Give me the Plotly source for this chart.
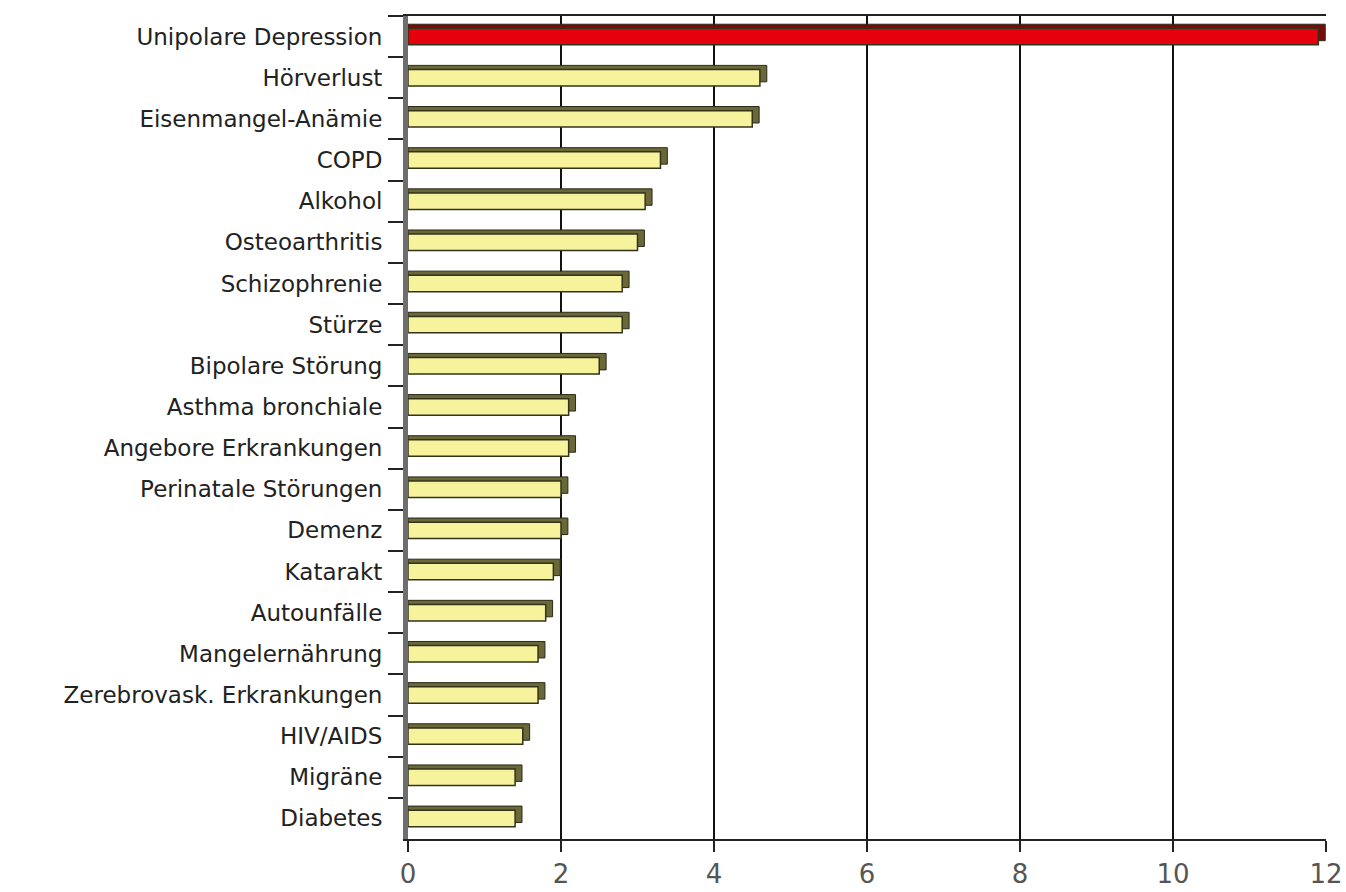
import plotly.graph_objects as go

# Years lived with disability, leading causes (share in %)
categories = [
    "Unipolare Depression", "Hörverlust", "Eisenmangel-Anämie", "COPD", "Alkohol",
    "Osteoarthritis", "Schizophrenie", "Stürze", "Bipolare Störung", "Asthma bronchiale",
    "Angebore Erkrankungen", "Perinatale Störungen", "Demenz", "Katarakt", "Autounfälle",
    "Mangelernährung", "Zerebrovask. Erkrankungen", "HIV/AIDS", "Migräne", "Diabetes",
]
values = [11.9, 4.6, 4.5, 3.3, 3.1, 3.0, 2.8, 2.8, 2.5, 2.1,
          2.1, 2.0, 2.0, 1.9, 1.8, 1.7, 1.7, 1.5, 1.4, 1.4]
x_ticks = [0, 2, 4, 6, 8, 10, 12]

front_colors = ["#e5000b"] + ["#f6f39c"] * (len(values) - 1)
depth_colors = ["#7a0a0a"] + ["#6a6838"] * (len(values) - 1)
depth = 0.09

fig = go.Figure()

# Shaded depth face drawn behind the front face for a 3D look
fig.add_trace(go.Bar(
    y=categories, x=[v + depth for v in values], orientation="h",
    width=0.40, offset=-0.30,
    marker=dict(color=depth_colors, line=dict(color="#2a2a18", width=1)),
    hoverinfo="skip", showlegend=False,
))
fig.add_trace(go.Bar(
    y=categories, x=values, orientation="h",
    width=0.40, offset=-0.20,
    marker=dict(color=front_colors, line=dict(color="#33331c", width=1.5)),
    showlegend=False,
))

fig.update_layout(
    width=1346, height=892,
    margin=dict(l=408, r=20, t=16, b=53),
    paper_bgcolor="white", plot_bgcolor="white",
    barmode="overlay", bargap=0.5,
    font=dict(family="DejaVu Sans, Arial, sans-serif", color="#222"),
)
fig.update_xaxes(
    range=[0, 12], tickvals=x_ticks, ticktext=[str(t) for t in x_ticks],
    automargin=False,
    showgrid=True, gridcolor="#111", gridwidth=1.5,
    showline=True, linecolor="#222", linewidth=2, mirror=True,
    ticks="outside", ticklen=11, tickcolor="#222", tickwidth=1.5,
    ticklabelstandoff=0,
    tickfont=dict(size=26, color="#555"), zeroline=False,
)
fig.update_yaxes(
    categoryorder="array", categoryarray=categories, autorange="reversed",
    automargin=False,
    showline=True, linecolor="#6e6e6e", linewidth=5,
    ticks="outside", tickson="boundaries", ticklen=15, tickcolor="#222", tickwidth=1.5,
    ticklabelstandoff=16,
    tickfont=dict(size=23, color="#222"), showgrid=False,
)

fig.write_html("out.html")
